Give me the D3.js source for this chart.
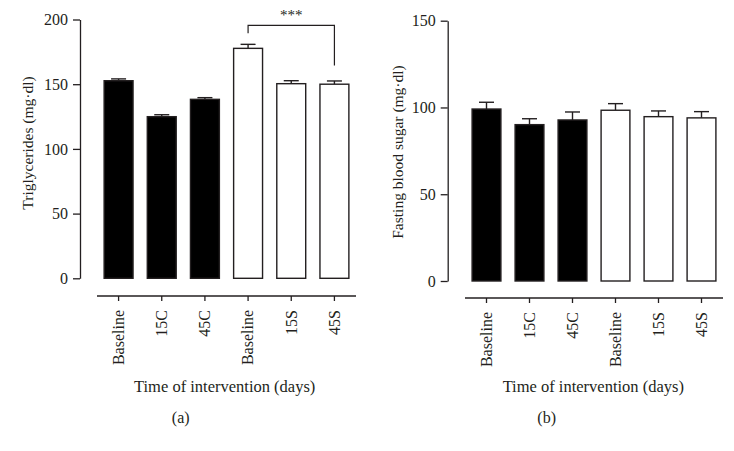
<!DOCTYPE html>
<html><head><meta charset="utf-8">
<script src="https://cdn.jsdelivr.net/npm/d3@7"></script>
<style>
body{margin:0;background:#fff;}
svg text{font-family:"Liberation Serif","Times New Roman",serif;fill:#231f20;}
</style></head>
<body><svg id="c" width="734" height="451"></svg>
<script>
const categories = ["Baseline","15C","45C","Baseline","15S","45S"];
const groups = ["C","C","C","S","S","S"];
const tgMean = [152.7,124.9,138.3,177.7,150.4,150.0];
const tgErr  = [1.4,1.5,1.3,3.1,2.3,2.5];
const fbsMean = [99.1,90.1,92.8,98.4,94.7,94.0];
const fbsErr  = [3.9,3.4,4.6,3.8,3.3,3.6];
const tgTicks = [0,50,100,150,200];
const fbsTicks = [0,50,100,150];

const svg = d3.select("#c");
const ink = "#231f20";

function panel(o){
  const g = svg.append("g");
  const y = d3.scaleLinear().domain([0,o.ymax]).range([o.y0,o.y1]);
  const x = d3.scaleBand().domain(d3.range(categories.length)).range(o.xr).paddingInner(0.33).paddingOuter(0.165);
  // y axis
  const ya = g.append("g").attr("transform",`translate(${o.ax},0)`)
    .call(d3.axisLeft(y).tickValues(o.ticks).tickSize(7).tickSizeOuter(0).tickPadding(5));
  ya.selectAll("path,line").attr("stroke",ink).attr("stroke-width",1.3);
  ya.selectAll("text").attr("font-size","16px").attr("font-family","Liberation Serif").attr("fill",ink);
  // x axis
  const xa = g.append("g").attr("transform",`translate(0,${o.xy})`)
    .call(d3.axisBottom(x).tickFormat(i=>categories[i]).tickSize(5).tickSizeOuter(0));
  xa.select("path").attr("d",`M${o.xr[0]},0H${o.xr[1]}`);
  xa.selectAll("path,line").attr("stroke",ink).attr("stroke-width",1.3);
  xa.selectAll("text").attr("font-size","16px").attr("font-family","Liberation Serif").attr("fill",ink)
    .attr("transform","rotate(-90)").attr("text-anchor","end").attr("x",-14).attr("y",0).attr("dy","0.33em");
  // bars
  const bars = g.append("g");
  o.mean.forEach((m,i)=>{
    const bx = x(i), bw = x.bandwidth(), cx = bx+bw/2;
    bars.append("line").attr("x1",cx).attr("x2",cx).attr("y1",y(m)).attr("y2",y(m+o.err[i])).attr("stroke",ink).attr("stroke-width",1.4);
    bars.append("line").attr("x1",cx-7.5).attr("x2",cx+7.5).attr("y1",y(m+o.err[i])).attr("y2",y(m+o.err[i])).attr("stroke",ink).attr("stroke-width",1.4);
    bars.append("rect").attr("x",bx).attr("width",bw).attr("y",y(m)).attr("height",y(0)-y(m))
      .attr("fill",groups[i]==="C"?"#000":"#fff").attr("stroke",ink).attr("stroke-width",1.4);
  });
  // y label
  g.append("text").attr("transform",`translate(${o.ylx},${o.yly}) rotate(-90)`).attr("text-anchor","middle")
    .attr("dy","0.35em").attr("font-size","15.5px").text(o.ylabel);
  // x title
  g.append("text").attr("x",o.xtx).attr("y",392).attr("text-anchor","middle").attr("font-size","16.5px").text("Time of intervention (days)");
  g.append("text").attr("x",o.px).attr("y",423).attr("text-anchor","middle").attr("font-size","16px").text(o.plabel);
  return {x,y,g};
}

const a = panel({ymax:200,y0:278.3,y1:19.5,ax:80,xr:[97,356],xy:296,ticks:tgTicks,mean:tgMean,err:tgErr,
  ylabel:"Triglycerides (mg·dl)",ylx:28,yly:143,xtx:224.7,px:180.7,plabel:"(a)"});
const b = panel({ymax:150,y0:281,y1:20.7,ax:447.7,xr:[465,723],xy:298,ticks:fbsTicks,mean:fbsMean,err:fbsErr,
  ylabel:"Fasting blood sugar (mg·dl)",ylx:398,yly:152,xtx:593.3,px:546.7,plabel:"(b)"});

// significance bracket between Baseline(S) and 45S
const bx1 = a.x(3)+a.x.bandwidth()/2, bx2 = a.x(5)+a.x.bandwidth()/2;
const by = a.y(195.5);
a.g.append("path").attr("d",`M${bx1},${a.y(189.3)}V${by}H${bx2}V${a.y(164.5)}`)
  .attr("fill","none").attr("stroke",ink).attr("stroke-width",1.2);
a.g.append("text").attr("x",(bx1+bx2)/2).attr("y",by-5).attr("text-anchor","middle")
  .attr("font-size","15px").attr("fill","#555").text("***");
</script></body></html>
